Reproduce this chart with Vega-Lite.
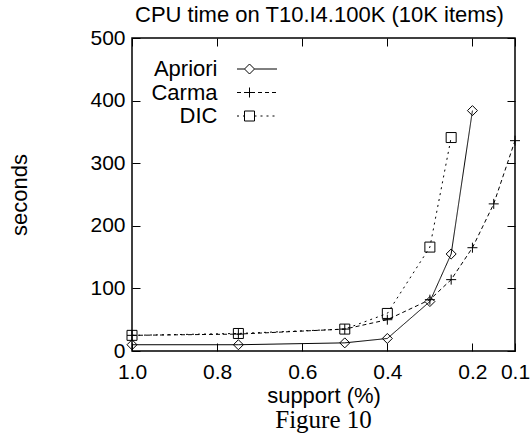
{
  "$schema": "https://vega.github.io/schema/vega-lite/v6.json",
  "autosize": {"type": "none"},
  "padding": {"left": 132, "top": 38, "right": 16, "bottom": 86},
  "width": 383,
  "height": 313,
  "background": "white",
  "config": {
    "font": "Liberation Sans",
    "view": {"stroke": "black", "strokeWidth": 1.5},
    "axis": {
      "domain": false,
      "grid": false,
      "tickColor": "black",
      "tickWidth": 1,
      "tickSize": -8,
      "labelColor": "black",
      "labelFont": "Liberation Sans",
      "labelFontSize": 21,
      "titleFont": "Liberation Sans",
      "titleFontSize": 22,
      "titleFontWeight": "normal",
      "titleColor": "black"
    }
  },
  "title": {
    "text": "Figure 10",
    "orient": "bottom",
    "font": "Liberation Serif",
    "fontSize": 25,
    "fontWeight": "normal",
    "color": "black",
    "offset": 1,
    "anchor": "middle",
    "frame": "group"
  },
  "data": {
    "values": [
      {"series": "Apriori", "support": 1.0, "seconds": 10},
      {"series": "Apriori", "support": 0.75, "seconds": 10},
      {"series": "Apriori", "support": 0.5, "seconds": 13},
      {"series": "Apriori", "support": 0.4, "seconds": 20},
      {"series": "Apriori", "support": 0.3, "seconds": 79},
      {"series": "Apriori", "support": 0.25, "seconds": 155},
      {"series": "Apriori", "support": 0.2, "seconds": 384},
      {"series": "Carma", "support": 1.0, "seconds": 25},
      {"series": "Carma", "support": 0.75, "seconds": 27},
      {"series": "Carma", "support": 0.5, "seconds": 35},
      {"series": "Carma", "support": 0.4, "seconds": 50},
      {"series": "Carma", "support": 0.3, "seconds": 82},
      {"series": "Carma", "support": 0.25, "seconds": 114},
      {"series": "Carma", "support": 0.2, "seconds": 165},
      {"series": "Carma", "support": 0.15, "seconds": 235},
      {"series": "Carma", "support": 0.1, "seconds": 336},
      {"series": "DIC", "support": 1.0, "seconds": 25},
      {"series": "DIC", "support": 0.75, "seconds": 28},
      {"series": "DIC", "support": 0.5, "seconds": 35},
      {"series": "DIC", "support": 0.4, "seconds": 60},
      {"series": "DIC", "support": 0.3, "seconds": 166},
      {"series": "DIC", "support": 0.25, "seconds": 341}
    ]
  },
  "layer": [
    {
      "mark": {"type": "line", "color": "black", "strokeWidth": 1},
      "encoding": {
        "x": {
          "field": "support", "type": "quantitative",
          "scale": {"domain": [0.1, 1.0], "reverse": true, "nice": false, "zero": false},
          "axis": {"orient": "bottom", "values": [1.0, 0.8, 0.6, 0.4, 0.2, 0.1], "format": ".1f", "labelPadding": 18.5, "title": "support (%)", "titlePadding": 3, "labelFlush": false}
        },
        "y": {
          "field": "seconds", "type": "quantitative",
          "scale": {"domain": [0, 500], "nice": false},
          "axis": {"orient": "left", "values": [0, 100, 200, 300, 400, 500], "labelPadding": 15, "title": "seconds", "titlePadding": 58, "labelFlush": false}
        },
        "strokeDash": {
          "field": "series", "type": "nominal",
          "scale": {"domain": ["Apriori", "Carma", "DIC"], "range": [[1, 0], [4, 3], [2, 4]]},
          "legend": null
        }
      }
    },
    {
      "mark": {"type": "point", "filled": false, "color": "black", "size": 100, "strokeWidth": 1, "opacity": 1},
      "encoding": {
        "x": {
          "field": "support", "type": "quantitative",
          "axis": {"orient": "top", "values": [1.0, 0.8, 0.6, 0.4, 0.2, 0.1], "labels": false, "title": "CPU time on T10.I4.100K (10K items)", "titlePadding": 11, "titleX": 187}
        },
        "y": {
          "field": "seconds", "type": "quantitative",
          "axis": {"orient": "right", "values": [0, 100, 200, 300, 400, 500], "labels": false, "title": null}
        },
        "shape": {
          "field": "series", "type": "nominal",
          "scale": {"domain": ["Apriori", "Carma", "DIC"], "range": ["diamond", "M-1,0H1M0,-1V1", "square"]},
          "legend": null
        }
      }
    },
    {
      "transform": [{"filter": "datum.seconds < 0"}],
      "mark": {"type": "point", "filled": false, "color": "black", "size": 100, "strokeWidth": 1, "opacity": 1},
      "encoding": {
        "x": {"field": "support", "type": "quantitative", "axis": null},
        "y": {"field": "seconds", "type": "quantitative", "axis": null},
        "shape": {
          "field": "series", "type": "nominal",
          "scale": {
            "domain": ["Apriori", "Carma", "DIC"],
            "range": [
              "M-2.5,0H-1M1,0H5.5M0,-1L1,0L0,1L-1,0Z",
              "M-2.5,0H-1.7M-1.1,0H1.1M1.7,0H2.5M3.1,0H3.9M4.5,0H5.3M0,-1V1",
              "M-2.5,0H-2.1M-1.3,0H-1M-1,-1H1V1H-1ZM1,0H1.4M2.2,0H2.6M3.4,0H3.8M4.6,0H5"
            ]
          },
          "legend": {
            "title": null,
            "orient": "none",
            "legendX": 106.5,
            "legendY": 20,
            "padding": 0,
            "symbolSize": 100,
            "symbolStrokeColor": "black",
            "symbolStrokeWidth": 1,
            "symbolFillColor": "transparent",
            "symbolOpacity": 1,
            "labelFont": "Liberation Sans",
            "labelFontSize": 22,
            "labelColor": "black",
            "labelAlign": "right",
            "labelOffset": -43,
            "labelLimit": 300,
            "rowPadding": 1.5
          }
        }
      }
    }
  ],
  "resolve": {
    "axis": {"x": "independent", "y": "independent"},
    "scale": {"shape": "independent"},
    "legend": {"shape": "independent"}
  }
}
